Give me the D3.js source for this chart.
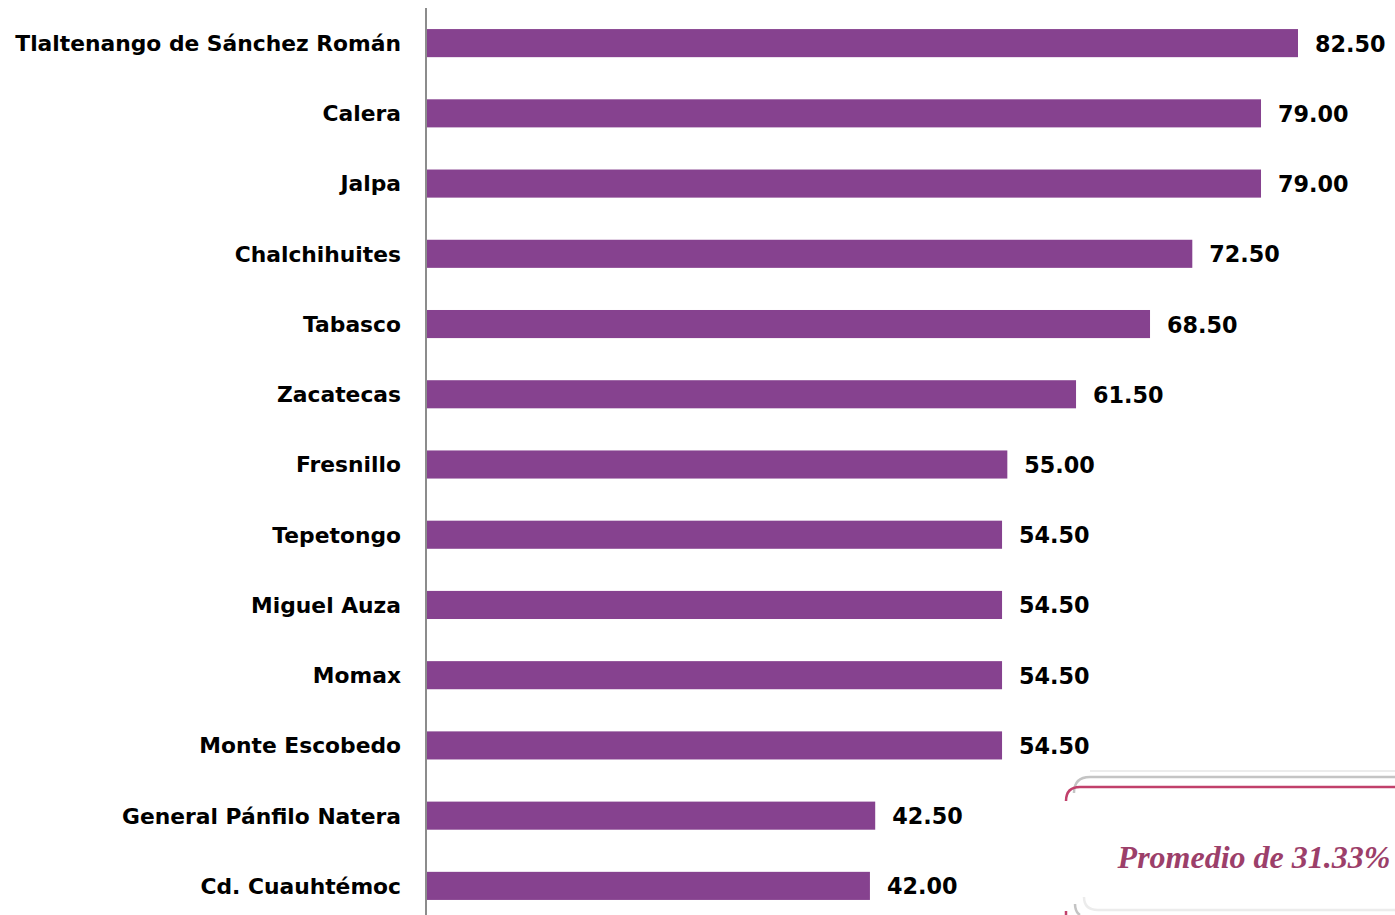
<!DOCTYPE html>
<html><head><meta charset="utf-8">
<script src="https://cdn.jsdelivr.net/npm/d3@7/dist/d3.min.js"></script>
<style>body{margin:0;background:#fff}svg{display:block}</style>
</head><body>
<svg id="c" width="1395" height="915"></svg>
<script>
const categories = ["Tlaltenango de Sánchez Román","Calera","Jalpa","Chalchihuites","Tabasco","Zacatecas","Fresnillo","Tepetongo","Miguel Auza","Momax","Monte Escobedo","General Pánfilo Natera","Cd. Cuauhtémoc"];
const values = [82.50,79.00,79.00,72.50,68.50,61.50,55.00,54.50,54.50,54.50,54.50,42.50,42.00];
const calloutText = "Promedio de 31.33%";

const svg = d3.select("#c");
const x = d3.scaleLinear().domain([0, 82.5]).range([426, 1298]);
const y = d3.scaleBand().domain(categories).range([8, 921]).paddingInner(0.6).paddingOuter(0.3);

// bars
svg.append("g").selectAll("rect").data(values).join("rect")
  .attr("x", x(0) + 1)
  .attr("y", (d,i) => y(categories[i]))
  .attr("width", d => x(d) - x(0) - 1)
  .attr("height", y.bandwidth())
  .attr("fill", "#86428F");

// axis
const ax = svg.append("g").attr("transform", `translate(${x(0)},0)`)
  .call(d3.axisLeft(y).tickSize(0).tickPadding(25));
ax.select(".domain").remove();
ax.append("line").attr("x1",0).attr("x2",0).attr("y1",8).attr("y2",915)
  .attr("stroke","#8c8c8c").attr("stroke-width",2);
ax.selectAll(".tick text")
  .attr("font-family","DejaVu Sans, Verdana, sans-serif")
  .attr("font-weight","bold").attr("font-size",21.8).attr("fill","#000")
  .attr("dy","0.36em");

// value labels
svg.append("g").selectAll("text").data(values).join("text")
  .attr("x", d => x(d) + 17)
  .attr("y", (d,i) => y(categories[i]) + y.bandwidth()/2)
  .attr("dy","0.38em")
  .attr("font-family","DejaVu Sans, Verdana, sans-serif")
  .attr("font-weight","bold").attr("font-size",22.3).attr("fill","#000")
  .text(d => d.toFixed(2));

// callout
const g = svg.append("g");
g.append("path").attr("d","M1090,771 L1400,771")
  .attr("fill","none").attr("stroke","#ececec").attr("stroke-width",2);
g.append("path").attr("d","M1084,897 Q1084,910 1098,910 L1400,910")
  .attr("fill","none").attr("stroke","#ececec").attr("stroke-width",2.5);
g.append("path").attr("d","M1074,793 Q1074,777 1090,777 L1400,777")
  .attr("fill","none").attr("stroke","#c4c4c4").attr("stroke-width",2.5);
g.append("path").attr("d","M1075,904 Q1075,912 1080,915")
  .attr("fill","none").attr("stroke","#c4c4c4").attr("stroke-width",2.5);
g.append("path").attr("d","M1066,801 Q1066,787 1080,787 L1400,787")
  .attr("fill","none").attr("stroke","#c1406b").attr("stroke-width",2.5);
g.append("path").attr("d","M1066,911 L1066,915")
  .attr("fill","none").attr("stroke","#c1406b").attr("stroke-width",2.5);
g.append("text").attr("x",1254).attr("y",868).attr("text-anchor","middle")
  .attr("font-family","Liberation Serif, Times New Roman, serif")
  .attr("font-style","italic").attr("font-weight","bold").attr("font-size",32)
  .attr("fill","#9c3f6a").text(calloutText);
</script>
</body></html>
